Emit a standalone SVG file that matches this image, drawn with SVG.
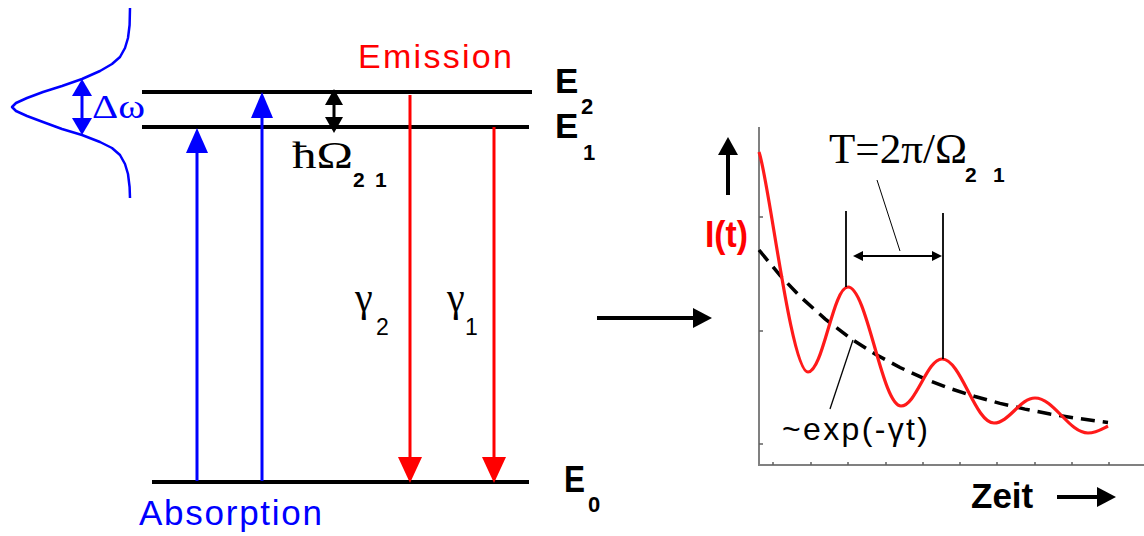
<svg xmlns="http://www.w3.org/2000/svg" width="1144" height="536" viewBox="0 0 1144 536">
<style>
.lvl{stroke:#000;stroke-width:4;fill:none}
.bl{stroke:#0000ff;stroke-width:3;fill:none}
.rd{stroke:#ff0000;stroke-width:3;fill:none}
.bk{stroke:#000;stroke-width:3;fill:none}
.fb{fill:#0000ff}
.fr{fill:#ff0000}
.fk{fill:#000}
.sans{font-family:"Liberation Sans",Arial,sans-serif}
.serif{font-family:"Liberation Serif","Times New Roman",serif}
.b{font-weight:bold}
.axis{stroke:#808080;stroke-width:2;fill:none}
.tick{stroke:#606060;stroke-width:1.5}
</style>
<rect width="1144" height="536" fill="#fff"/>

<g id="gaussian">
<polyline fill="none" stroke="#0000ff" stroke-width="2.5" stroke-linejoin="round" points="130,8 129.6,25 128,38 125,48 120,57 112,64 100,71 82,79 62,86 43,92 27,98 16,103 12,107 16,111 27,116 43,122 62,129 82,135 100,142 112,148 120,155 125,164 128,174 129.6,187 130,198"/>
<text class="serif fb" x="92" y="118" font-size="33" textLength="53" lengthAdjust="spacingAndGlyphs">Δω</text>
</g>

<g id="levels">
<line class="lvl" x1="142" y1="92" x2="532" y2="92"/>
<line class="lvl" x1="142" y1="127" x2="529" y2="127"/>
<line class="lvl" x1="152" y1="482" x2="529" y2="482"/>
</g>

<g id="level-labels">
<text class="sans b" x="555" y="93" font-size="35">E</text>
<text class="sans b" x="581" y="114" font-size="22">2</text>
<text class="sans b" x="555" y="138" font-size="35">E</text>
<text class="sans b" x="583" y="160" font-size="22">1</text>
<text class="sans b" x="564" y="492" font-size="36" textLength="21" lengthAdjust="spacingAndGlyphs">E</text>
<text class="sans b" x="588" y="512" font-size="22">0</text>
</g>

<g id="labels">
<text class="sans fr" x="358" y="68" font-size="34" textLength="154" lengthAdjust="spacing">Emission</text>
<text class="sans fb" x="139" y="525" font-size="35" textLength="183" lengthAdjust="spacing">Absorption</text>
<text class="serif" x="292" y="168" font-size="38" textLength="61" lengthAdjust="spacingAndGlyphs">ħΩ</text>
<text class="sans b" x="353" y="187" font-size="21">2</text>
<text class="sans b" x="375" y="187" font-size="21">1</text>
<text class="serif" x="355" y="311" font-size="40">γ</text>
<text class="sans" x="376" y="335" font-size="23">2</text>
<text class="serif" x="447" y="311" font-size="40">γ</text>
<text class="sans" x="465" y="335" font-size="23">1</text>
</g>

<g id="connectors">
<line class="bl" x1="197" y1="481" x2="197" y2="150"/>
<polygon class="fb" points="197,128 186,153 208,153"/>
<line class="bl" x1="262" y1="481" x2="262" y2="116"/>
<polygon class="fb" points="262,92 251,118 273,118"/>
<line class="rd" x1="410" y1="95" x2="410" y2="460"/>
<polygon class="fr" points="410,483 398,457 422,457"/>
<line class="rd" x1="494" y1="127" x2="494" y2="460"/>
<polygon class="fr" points="494,483 482,457 506,457"/>
<line class="bk" x1="334" y1="103" x2="334" y2="119"/>
<polygon class="fk" points="334,89 325,105 343,105"/>
<polygon class="fk" points="334,133 325,117 343,117"/>
<line class="bl" x1="82" y1="94" x2="82" y2="120"/>
<polygon class="fb" points="82,79 72,96 92,96"/>
<polygon class="fb" points="82,135 72,118 92,118"/>
<line stroke="#000" stroke-width="4" x1="597" y1="318" x2="695" y2="318"/>
<polygon class="fk" points="712,318 693,308 693,328"/>
</g>

<g id="graph">
<line class="axis" x1="759" y1="127" x2="759" y2="465"/>
<line class="axis" x1="758" y1="465" x2="1144" y2="465"/>
<g class="tick">
<line x1="759" y1="217" x2="763" y2="217"/>
<line x1="759" y1="331" x2="763" y2="331"/>
<line x1="759" y1="444" x2="763" y2="444"/>
<line x1="773" y1="465" x2="773" y2="462"/>
<line x1="811" y1="465" x2="811" y2="462"/>
<line x1="848" y1="465" x2="848" y2="462"/>
<line x1="886" y1="465" x2="886" y2="462"/>
<line x1="923" y1="465" x2="923" y2="462"/>
<line x1="960" y1="465" x2="960" y2="462"/>
<line x1="997" y1="465" x2="997" y2="462"/>
<line x1="1035" y1="465" x2="1035" y2="462"/>
<line x1="1072" y1="465" x2="1072" y2="462"/>
<line x1="1109" y1="465" x2="1109" y2="462"/>
</g>
<polyline fill="none" stroke="#000" stroke-width="3.5" stroke-dasharray="14 8" points="759,250 780,275.4 800,296.4 825,318.9 850,338 875,354 900,367.5 925,378.9 950,388.5 975,396.5 1000,403.4 1025,409.1 1050,414 1075,418 1100,421.5 1108,422.5"/>
<path fill="none" stroke="#ff1a1a" stroke-width="3.2" d="M759,152 C769,180 791,372 808,372 C823,372 833,287 848,287 C867,287 882,406 901,406 C916,406 927,359 942,359 C961,359 975,423 994,423 C1009,423 1020,398 1035,398 C1054,398 1069,433 1088,433 C1096,433 1102,429 1108,426"/>
<line stroke="#000" stroke-width="1.8" x1="846" y1="211" x2="846" y2="287"/>
<line stroke="#000" stroke-width="1.8" x1="943" y1="213" x2="943" y2="359"/>
<line stroke="#000" stroke-width="1.8" x1="858" y1="256" x2="937" y2="256"/>
<polygon class="fk" points="853,256 863,251 863,261"/>
<polygon class="fk" points="942,256 932,251 932,261"/>
<line stroke="#000" stroke-width="1" x1="877" y1="180" x2="900" y2="251"/>
<line stroke="#000" stroke-width="1.3" x1="830" y1="409" x2="853" y2="340"/>
<line stroke="#000" stroke-width="4" x1="728" y1="195" x2="728" y2="152"/>
<polygon class="fk" points="728,137 718,155 738,155"/>
<line stroke="#000" stroke-width="4" x1="1057" y1="497" x2="1099" y2="497"/>
<polygon class="fk" points="1116,497 1097,487 1097,507"/>
<text class="serif" x="829" y="163" font-size="42" textLength="138" lengthAdjust="spacingAndGlyphs">T=2π/Ω</text>
<text class="sans b" x="965" y="182" font-size="21">2</text>
<text class="sans b" x="993" y="182" font-size="21">1</text>
<text class="sans b fr" x="705" y="247" font-size="36" textLength="43" lengthAdjust="spacingAndGlyphs">I(t)</text>
<text class="sans" x="782" y="440" font-size="32" textLength="146" lengthAdjust="spacing">~exp(-γt)</text>
<text class="sans b" x="971" y="508" font-size="35">Zeit</text>
</g>
</svg>
